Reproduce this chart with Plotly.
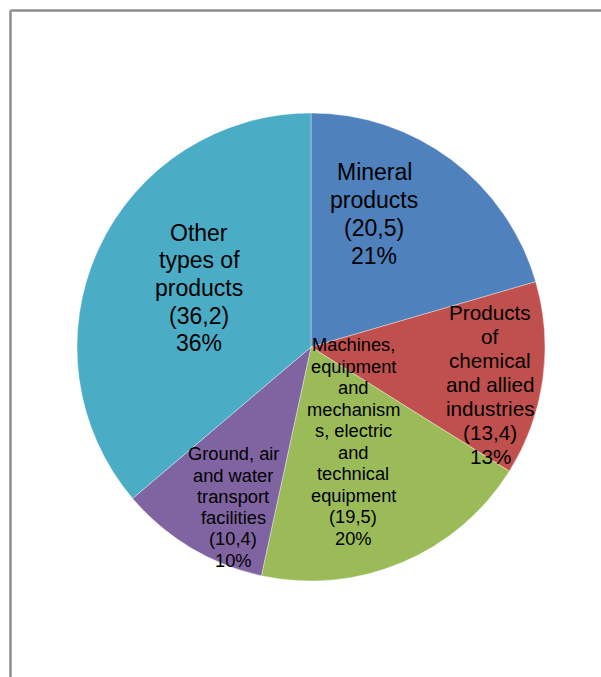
import plotly.graph_objects as go

# Export structure by product group (share of total, %)
categories = [
    "Mineral products",
    "Products of chemical and allied industries",
    "Machines, equipment and mechanisms, electric and technical equipment",
    "Ground, air and water transport facilities",
    "Other types of products",
]
label_lines = [
    ["Mineral", "products"],
    ["Products", "of", "chemical", "and allied", "industries"],
    ["Machines,", "equipment", "and", "mechanism", "s, electric", "and", "technical", "equipment"],
    ["Ground, air", "and water", "transport", "facilities"],
    ["Other", "types of", "products"],
]
values = [20.5, 13.4, 19.5, 10.4, 36.2]
colors = ["#4F81BD", "#C0504D", "#9BBB59", "#8064A2", "#4BACC6"]

W, H = 601, 677
CX, CY, R = 311, 347, 234

# label layout: centre (px), font size, line spacing
label_pos = [
    (374, 214, 23, 28),
    (490, 384, 20.7, 24),
    (353, 441.5, 18.3, 21.5),
    (233, 507, 18.3, 21.3),
    (199, 288, 23, 27.5),
]

fig = go.Figure(
    go.Pie(
        labels=categories,
        values=values,
        sort=False,
        direction="clockwise",
        rotation=0,
        marker=dict(colors=colors, line=dict(color="rgba(255,255,255,0.6)", width=0.6)),
        textinfo="none",
        hoverinfo="label+value+percent",
        showlegend=False,
        domain=dict(
            x=[(CX - R) / W, (CX + R) / W],
            y=[1 - (CY + R) / H, 1 - (CY - R) / H],
        ),
    )
)

total = sum(values)
annotations = []
for lines, v, (cx, cy, fs, sp) in zip(label_lines, values, label_pos):
    pct = int(v / total * 100 + 0.5)
    all_lines = lines + ["(" + f"{v:.1f}".replace(".", ",") + ")", f"{pct}%"]
    n = len(all_lines)
    for i, t in enumerate(all_lines):
        y_px = cy + (i - (n - 1) / 2) * sp
        annotations.append(
            dict(
                x=cx / W, y=1 - y_px / H, xref="paper", yref="paper",
                text=t, showarrow=False, xanchor="center", yanchor="middle",
                font=dict(family="Arial, Liberation Sans", size=fs, color="#000000"),
            )
        )

fig.update_layout(
    width=W, height=H,
    margin=dict(l=0, r=0, t=0, b=0),
    paper_bgcolor="white",
    plot_bgcolor="white",
    annotations=annotations,
    shapes=[
        dict(type="line", xref="paper", yref="paper",
             x0=10.5 / W, y0=0, x1=10.5 / W, y1=1 - 10.5 / H,
             line=dict(color="#8c8c8c", width=2.5)),
        dict(type="line", xref="paper", yref="paper",
             x0=10.5 / W, y0=1 - 10.5 / H, x1=1, y1=1 - 10.5 / H,
             line=dict(color="#8c8c8c", width=2.5)),
    ],
)

fig.write_html("out.html")
